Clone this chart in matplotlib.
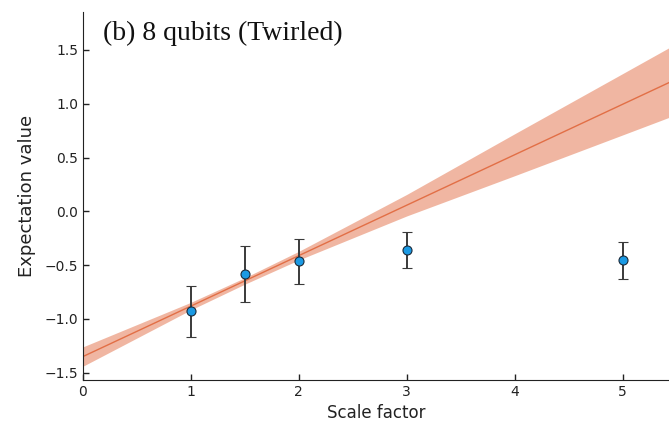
import matplotlib
matplotlib.use("Agg")
import matplotlib.pyplot as plt
import numpy as np

# measured expectation values vs noise scale factor
scale = [1.0, 1.5, 2.0, 3.0, 5.0]
expval = [-0.93, -0.586, -0.463, -0.361, -0.456]
err = [0.24, 0.26, 0.21, 0.17, 0.17]

# linear extrapolation fit and its confidence band
fit_intercept = -1.35
fit_slope = 0.469
band_x = [0.0, 1.0, 1.5, 2.0, 3.0, 4.0, 5.0, 5.5]
band_lo = [-1.44, -0.916, -0.677, -0.452, -0.043, 0.331, 0.71, 0.90]
band_hi = [-1.26, -0.846, -0.617, -0.372, 0.157, 0.721, 1.28, 1.56]

fit_color = "#E26F46"
pt_color = "#1B9AE4"

fig = plt.figure(figsize=(6.69, 4.24), dpi=100)
ax = fig.add_axes([0.124, 0.1038, 0.876, 0.8679])

ax.fill_between(band_x, band_lo, band_hi, color=fit_color, alpha=0.5, lw=0)
xs = np.array([0.0, 5.5])
ax.plot(xs, fit_intercept + fit_slope * xs, color=fit_color, lw=1.0)

ax.errorbar(scale, expval, yerr=err, fmt="o", color=pt_color, mec="#1a2a3a",
            mew=0.8, ms=6.5, ecolor="#3a3a3a", elinewidth=1.4, capsize=3.5,
            capthick=1.2, zorder=5)

ax.set_xlim(0, 5.43)
ax.set_ylim(-1.568, 1.853)
ax.set_xticks([0, 1, 2, 3, 4, 5])
ax.set_yticks([-1.5, -1.0, -0.5, 0.0, 0.5, 1.0, 1.5])
ax.set_yticklabels(["\u22121.5", "\u22121.0", "\u22120.5", "0.0", "0.5", "1.0", "1.5"])
ax.tick_params(direction="in", length=4, width=1, labelsize=10, colors="#222222")
for s in ("top", "right"):
    ax.spines[s].set_visible(False)
for s in ("left", "bottom"):
    ax.spines[s].set_color("#222222")

ax.set_xlabel("Scale factor", fontsize=12, color="#222222", labelpad=4)
ax.set_ylabel("Expectation value", fontsize=13, color="#222222", labelpad=6)

ax.text(0.035, 0.977, "(b) 8 qubits (Twirled)", transform=ax.transAxes,
        family="Liberation Serif", fontsize=20, va="top", ha="left", color="#111111")

fig.savefig("out.png", dpi=100)
